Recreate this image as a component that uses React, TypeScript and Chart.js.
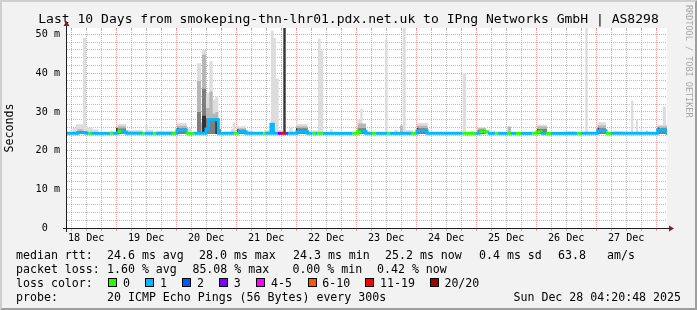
import React, { useEffect, useRef } from 'react';
import { Chart, registerables } from 'chart.js';

Chart.register(...registerables);

// ---------------- data (hours since 18 Dec 00:00, values in ms) ----------------
const titleText = 'Last 10 Days from smokeping-thn-lhr01.pdx.net.uk to IPng Networks GmbH | AS8298';
const dayLabels = ['18 Dec', '19 Dec', '20 Dec', '21 Dec', '22 Dec', '23 Dec', '24 Dec', '25 Dec', '26 Dec', '27 Dec'];
const X_MIN = 4 + 20 / 60; // 18 Dec 04:20
const X_MAX = X_MIN + 240; // 28 Dec 04:20
const Y_MAX = 51.68;
const MEDIAN_BASE = 24.46;
const SMOKE_BASE = 24.3;

// smoke layers: [start hour, end hour, top ms]
const smokeMax: number[][] = [
  [6.6, 7.93, 25.85], [7.93, 10.73, 26.8], [10.73, 11.93, 49.1], [11.93, 14.6, 26.0], [14.6, 16.87, 25.5],
  [21.67, 22.6, 25.2], [24.6, 27.93, 26.9], [28.6, 34.6, 25.3], [35.67, 36.6, 26.7], [36.6, 38.87, 25.4],
  [39.93, 47.93, 25.15], [48.33, 52.3, 27.1], [52.3, 54.0, 25.8], [56.33, 57.93, 42.6], [57.93, 58.33, 27.5],
  [58.33, 59.93, 46.1], [59.93, 61.27, 34.9], [61.27, 62.6, 43.1], [62.6, 63.67, 33.2], [63.67, 64.87, 34.0],
  [64.87, 65.93, 25.6], [69.93, 70.6, 25.6], [70.6, 71.67, 27.3], [71.67, 72.0, 25.4], [72.6, 75.93, 26.3],
  [75.93, 78.6, 25.2], [83.27, 85.5, 25.3], [85.5, 85.93, 27.0], [85.93, 87.0, 51.0], [87.0, 87.93, 49.1],
  [87.93, 89.0, 38.6], [89.0, 90.87, 25.3], [90.87, 91.8, 51.68], [93.27, 94.6, 26.2], [95.93, 100.6, 26.9],
  [102.6, 104.73, 25.2], [104.73, 105.8, 48.9], [105.8, 106.87, 45.8], [109.53, 110.6, 25.6], [120.6, 121.67, 28.0],
  [121.67, 122.6, 30.8], [122.6, 123.93, 26.5], [131.53, 132.6, 48.7], [135.27, 136.6, 25.4], [137.53, 138.6, 26.5],
  [138.6, 139.8, 51.68], [139.93, 142.6, 25.3], [144.33, 148.6, 27.1], [162.6, 163.93, 40.05], [165.93, 166.87, 25.15],
  [168.6, 171.93, 26.1], [174.6, 175.67, 25.15], [180.6, 181.93, 26.2], [192.33, 196.33, 26.7], [203.27, 207.93, 25.0],
  [211.67, 212.6, 51.68], [216.6, 219.93, 27.3], [222.6, 226.6, 25.0], [229.93, 230.87, 32.9], [231.93, 232.73, 28.0],
  [235.93, 236.6, 25.4], [240.6, 242.6, 26.7], [242.6, 243.93, 31.3], [243.93, 244.33, 26.7],
];
const smokeMid: number[][] = [
  [8.5, 10.73, 25.5], [24.6, 27.93, 26.3], [48.33, 52.3, 26.4], [56.33, 57.93, 38.0], [57.93, 58.33, 27.0],
  [58.33, 59.93, 44.8], [59.93, 61.27, 31.0], [61.27, 62.6, 35.3], [62.6, 63.67, 29.5], [63.67, 64.87, 30.0],
  [72.6, 75.93, 25.8], [95.93, 100.6, 26.3], [120.6, 123.93, 27.0], [137.53, 138.6, 26.5], [144.33, 148.6, 26.4],
  [168.6, 171.93, 25.8], [180.6, 181.93, 26.2], [192.33, 196.33, 26.2], [216.6, 219.93, 26.5], [240.6, 244.33, 26.3],
];
const smokeDark: number[][] = [
  [24.6, 27.93, 25.7], [48.33, 52.3, 25.8], [56.33, 57.93, 30.0], [58.33, 59.93, 36.0], [59.93, 64.87, 28.3],
  [64.87, 65.93, 25.5], [72.6, 75.93, 25.4], [95.93, 100.6, 25.8], [120.6, 123.93, 25.8], [144.33, 148.6, 25.8],
  [168.6, 171.93, 25.4], [192.33, 196.33, 25.6], [216.6, 219.93, 25.8], [240.6, 244.33, 25.8],
];
const smokeCore: number[][] = [
  [23.93, 24.6, 25.9], [48.33, 48.9, 25.9], [58.33, 59.93, 29.0], [63.67, 64.87, 28.2], [72.4, 72.9, 25.6],
  [90.87, 91.8, 51.68], [95.93, 96.4, 25.8], [144.33, 144.8, 25.9], [170.6, 171.0, 25.4], [192.33, 192.8, 25.6],
  [216.6, 217.1, 25.9], [240.6, 241.1, 26.0],
];
// median rtt: [start hour, end hour, ms, loss class]; elsewhere MEDIAN_BASE with loss class 1
const medianSegs: number[][] = [
  [8.73, 11.93, 24.7, 1], [13.0, 14.0, 24.46, 0], [21.67, 22.6, 24.46, 0], [24.6, 25.93, 25.0, 0],
  [25.93, 28.2, 24.8, 1], [34.33, 35.27, 24.46, 0], [38.87, 39.67, 24.46, 0], [46.33, 47.93, 24.46, 0],
  [48.33, 52.0, 25.3, 1], [52.0, 54.87, 24.46, 0], [59.93, 61.0, 25.6, 1], [61.0, 64.87, 28.0, 1],
  [71.27, 72.6, 24.46, 0], [72.6, 75.93, 24.9, 1], [82.87, 83.67, 24.46, 0], [85.93, 86.87, 26.8, 1],
  [88.6, 89.93, 24.46, 3], [89.93, 91.93, 24.46, 6], [91.93, 92.73, 24.46, 2], [96.33, 100.6, 24.9, 1],
  [102.6, 103.67, 24.46, 0], [104.6, 106.6, 24.46, 0], [118.6, 120.6, 24.46, 0], [120.6, 121.93, 24.9, 0],
  [121.93, 123.93, 24.98, 1], [126.33, 127.93, 24.46, 0], [132.6, 133.27, 24.46, 0], [141.93, 143.93, 24.46, 0],
  [144.33, 148.4, 25.15, 1], [162.6, 167.93, 24.46, 0], [169.27, 172.6, 24.9, 0], [175.67, 176.6, 24.46, 0],
  [180.6, 181.93, 24.46, 0], [183.93, 185.93, 24.46, 0], [190.6, 192.33, 24.46, 0], [192.33, 193.93, 24.9, 0],
  [195.93, 197.93, 24.46, 0], [208.6, 209.93, 24.46, 0], [216.6, 219.93, 25.1, 1], [219.93, 221.93, 24.46, 0],
  [240.6, 244.33, 25.3, 1],
];

const lossLabels = ['0', '1', '2', '3', '4-5', '6-10', '11-19', '20/20'];
const lossColors = ['#26ff00', '#00b8ff', '#0059ff', '#7e00ff', '#ff00ff', '#ff5500', '#ff0000', '#a10000'];
const rttStats = ['24.6 ms avg', '28.0 ms max', '24.3 ms min', '25.2 ms now', '0.4 ms sd', '63.8', 'am/s'];
const lossStats = ['1.60 % avg', '85.08 % max', '0.00 % min', '0.42 % now'];
const probeText = '20 ICMP Echo Pings (56 Bytes) every 300s';
const dateText = 'Sun Dec 28 04:20:48 2025';
const watermark = 'RRDTOOL / TOBI OETIKER';

// ---------------- styling / layout ----------------
const FONT = "'DejaVu Sans Mono', monospace";
const COL = {
  back: '#f2f2f2', canvas: '#ffffff', shadeA: '#cfcfcf', shadeB: '#9e9e9e',
  grid: 'rgba(143,143,143,0.6)', mgrid: 'rgba(222,79,79,0.55)', arrow: '#801f1f', axis: '#1f1f1f',
};
const smokeColors = ['#dddddd', '#b7b7b7', '#7e7e7e', '#333333'];
const rttX = [107, 199, 293, 385, 479, 558, 607];
const lossX = [107, 192.4, 292.4, 377];
const boxX = [108, 145, 182, 219, 256, 308, 365, 430];
const boxLabelX = [123, 160, 196.9, 233.8, 271, 322.2, 380, 444.4];
const rowY = [258.5, 272.5, 286.5, 300.5];

function stepSeries(segs: number[][], base: number) {
  const pts: any[] = [{ x: X_MIN, y: base }];
  segs.forEach((s, i) => {
    pts.push({ x: s[0], y: s[2] });
    const next = segs[i + 1];
    if (!next || next[0] > s[1] + 1e-6) pts.push({ x: s[1], y: base });
  });
  pts.push({ x: X_MAX, y: base });
  return pts;
}

function medianSeries() {
  const pts: any[] = [{ x: X_MIN, y: MEDIAN_BASE, l: 1 }];
  medianSegs.forEach((s, i) => {
    pts.push({ x: s[0], y: s[2], l: s[3] });
    const next = medianSegs[i + 1];
    if (!next || next[0] > s[1] + 1e-6) pts.push({ x: s[1], y: MEDIAN_BASE, l: 1 });
  });
  pts.push({ x: X_MAX, y: MEDIAN_BASE, l: 1 });
  return pts;
}

const align = (p: number) => Math.round(p + 0.5) - 0.5;

const decor = {
  id: 'decor',
  beforeDraw(chart: any) {
    const { ctx, width, height, chartArea: a } = chart;
    ctx.save();
    ctx.fillStyle = COL.back;
    ctx.fillRect(0, 0, width, height);
    ctx.fillStyle = COL.shadeA;
    ctx.beginPath();
    ctx.moveTo(0, height); ctx.lineTo(2, height - 2); ctx.lineTo(2, 2); ctx.lineTo(width - 2, 2);
    ctx.lineTo(width, 0); ctx.lineTo(0, 0); ctx.closePath(); ctx.fill();
    ctx.fillStyle = COL.shadeB;
    ctx.beginPath();
    ctx.moveTo(2, height - 2); ctx.lineTo(width - 2, height - 2); ctx.lineTo(width - 2, 2);
    ctx.lineTo(width, 0); ctx.lineTo(width, height); ctx.lineTo(0, height); ctx.closePath(); ctx.fill();
    ctx.fillStyle = COL.canvas;
    ctx.fillRect(a.left, a.top, a.right - a.left, a.bottom - a.top);
    ctx.restore();
  },
  afterDraw(chart: any) {
    const { ctx, width, chartArea: a } = chart;
    const xs = chart.scales.x;
    ctx.save();
    ctx.lineWidth = 1;
    xs.ticks.forEach((t: any) => {
      const px = align(xs.getPixelForValue(t.value));
      ctx.strokeStyle = t.value % 24 === 0 ? COL.mgrid : COL.grid;
      ctx.beginPath(); ctx.moveTo(px, a.top); ctx.lineTo(px, a.top + 2); ctx.stroke();
    });
    ctx.fillStyle = '#000';
    ctx.font = `13.05px ${FONT}`;
    ctx.textAlign = 'center';
    ctx.textBaseline = 'alphabetic';
    ctx.fillText(titleText, width / 2, 23);
    ctx.strokeStyle = COL.axis;
    ctx.lineWidth = 1;
    ctx.beginPath();
    ctx.moveTo(a.left - 4, a.bottom + 0.5); ctx.lineTo(a.right + 4, a.bottom + 0.5);
    ctx.moveTo(a.left - 0.5, a.bottom + 4); ctx.lineTo(a.left - 0.5, a.top - 4);
    ctx.stroke();
    ctx.fillStyle = COL.arrow;
    ctx.beginPath();
    ctx.moveTo(a.right + 2, a.bottom - 2.5); ctx.lineTo(a.right + 2, a.bottom + 3.5); ctx.lineTo(a.right + 7, a.bottom + 0.5);
    ctx.closePath(); ctx.fill();
    ctx.beginPath();
    ctx.moveTo(a.left - 3.5, a.top - 2); ctx.lineTo(a.left + 2.5, a.top - 2); ctx.lineTo(a.left - 0.5, a.top - 7);
    ctx.closePath(); ctx.fill();
    ctx.fillStyle = '#000';
    ctx.font = `11.6px ${FONT}`;
    ctx.textAlign = 'left';
    ctx.fillText('median rtt:', 16, rowY[0]);
    rttStats.forEach((s, i) => ctx.fillText(s, rttX[i], rowY[0]));
    ctx.fillText('packet loss:', 16, rowY[1]);
    lossStats.forEach((s, i) => ctx.fillText(s, lossX[i], rowY[1]));
    ctx.fillText('loss color:', 16, rowY[2]);
    lossLabels.forEach((s, i) => {
      ctx.fillStyle = lossColors[i];
      ctx.fillRect(boxX[i], rowY[2] - 8.5, 9, 9);
      ctx.strokeStyle = '#000';
      ctx.strokeRect(boxX[i] + 0.5, rowY[2] - 8, 8, 8);
      ctx.fillStyle = '#000';
      ctx.fillText(s, boxLabelX[i], rowY[2]);
    });
    ctx.fillText('probe:', 16, rowY[3]);
    ctx.fillText(probeText, 107, rowY[3]);
    ctx.textAlign = 'right';
    ctx.fillText(dateText, 681, rowY[3]);
    ctx.translate(688, 5);
    ctx.rotate(Math.PI / 2);
    ctx.font = `8.5px ${FONT}`;
    ctx.fillStyle = '#a6a6a6';
    ctx.textAlign = 'left';
    ctx.textBaseline = 'middle';
    ctx.fillText(watermark, 0, 0);
    ctx.restore();
  },
};

export default function App() {
  const ref = useRef<HTMLCanvasElement | null>(null);
  useEffect(() => {
    if (!ref.current) return;
    const medPts = medianSeries();
    const smokeSets = [smokeMax, smokeMid, smokeDark, smokeCore].map((segs, i) => ({
      data: stepSeries(segs, SMOKE_BASE),
      stepped: 'before' as const,
      borderWidth: 0,
      borderColor: 'transparent',
      backgroundColor: smokeColors[i],
      fill: { value: SMOKE_BASE },
      pointRadius: 0,
      order: 4 - i,
    }));
    const chart = new Chart(ref.current, {
      type: 'line',
      data: {
        datasets: [
          {
            data: medPts,
            stepped: 'before',
            borderWidth: 3,
            borderColor: lossColors[1],
            borderCapStyle: 'butt',
            borderJoinStyle: 'miter',
            fill: false,
            pointRadius: 0,
            order: 0,
            segment: { borderColor: (c: any) => lossColors[medPts[c.p0DataIndex].l] },
          } as any,
          ...smokeSets,
        ],
      },
      options: {
        responsive: false,
        maintainAspectRatio: false,
        animation: false,
        events: [],
        layout: { padding: { left: 0, right: 30, top: 28, bottom: 62 } },
        plugins: { legend: { display: false }, tooltip: { enabled: false }, title: { display: false } },
        scales: {
          x: {
            type: 'linear',
            min: X_MIN,
            max: X_MAX,
            afterBuildTicks: (s: any) => {
              const t = [];
              for (let h = 6; h <= X_MAX; h += 6) t.push({ value: h });
              s.ticks = t;
            },
            afterFit: (s: any) => { s.height = 20; },
            ticks: {
              autoSkip: false,
              maxRotation: 0,
              minRotation: 0,
              padding: 1,
              color: '#000',
              font: { family: FONT, size: 10.15 },
              callback: (v: any) => (v % 24 === 12 ? dayLabels[(v - 12) / 24] ?? '' : ''),
            },
            grid: {
              color: (c: any) => (c.tick && c.tick.value % 24 === 0 ? COL.mgrid : COL.grid),
              tickColor: (c: any) => (c.tick && c.tick.value % 24 === 0 ? COL.mgrid : COL.grid),
              lineWidth: 1,
              drawTicks: true,
              tickLength: 3,
            },
            border: { display: false, dash: [1, 1] },
          },
          y: {
            type: 'linear',
            min: 0,
            max: Y_MAX,
            afterBuildTicks: (s: any) => {
              const t = [];
              for (let v = 0; v <= 50; v += 2) t.push({ value: v });
              s.ticks = t;
            },
            afterFit: (s: any) => { s.width = 67; },
            ticks: {
              autoSkip: false,
              padding: 7,
              color: '#000',
              font: { family: FONT, size: 10.15 },
              callback: (v: any) => (v === 0 ? '0  ' : v % 10 === 0 ? `${v} m` : ''),
            },
            grid: {
              color: (c: any) => (c.tick && c.tick.value % 10 === 0 ? COL.mgrid : COL.grid),
              lineWidth: 1,
              drawTicks: false,
            },
            border: { display: false, dash: [1, 1] },
            title: {
              display: true,
              text: 'Seconds',
              color: '#000',
              font: { family: FONT, size: 11.6 },
              padding: { top: 3, bottom: 0 },
            },
          },
        },
      } as any,
      plugins: [decor],
    });
    return () => chart.destroy();
  }, []);
  return (
    <div style={{ position: 'absolute', left: 0, top: 0, width: 697, height: 310 }}>
      <canvas ref={ref} width={697} height={310} style={{ width: 697, height: 310, display: 'block' }} />
    </div>
  );
}
